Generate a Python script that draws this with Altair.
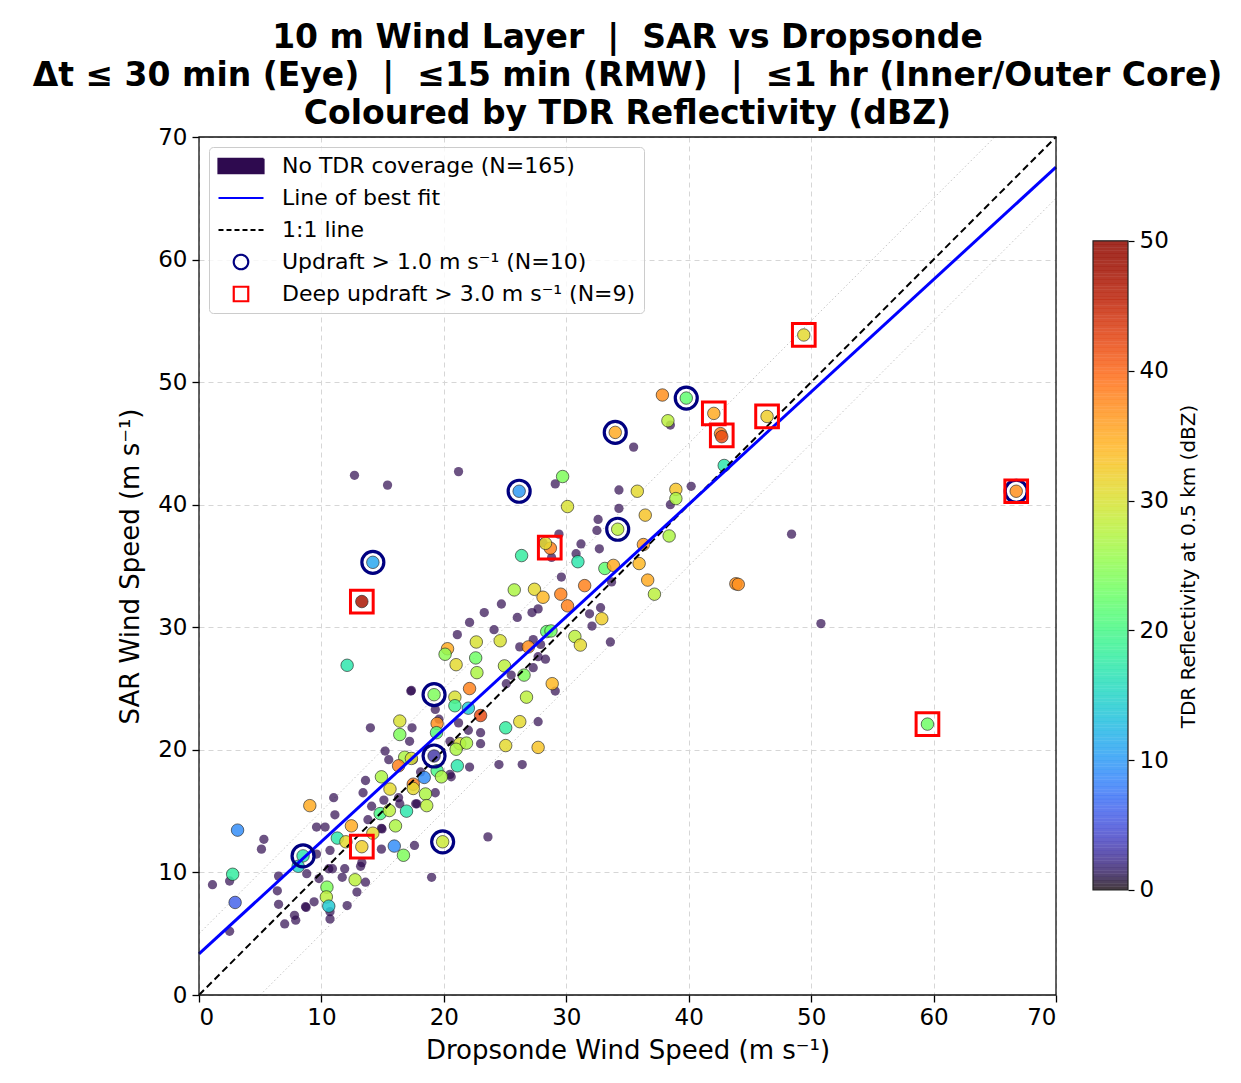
import altair as alt
import pandas as pd
import numpy as np

FONT = "DejaVu Sans"

# ---------------- data ----------------
# points with no TDR coverage (dropsonde speed, SAR speed)
notdr_x = [12.7, 15.4, 21.2, 29.1, 34.3, 35.5, 40.2, 38.5, 48.4, 50.8,
           34.3, 32.6, 32.5, 38.5, 29.4, 28.1, 28.8, 31.2, 30.8, 32.7,
           29.6, 33.7, 24.7, 23.3, 22.1, 21.1, 24.1, 26.0, 27.2, 27.7,
           31.9, 32.8, 32.1, 33.6, 26.2, 27.3, 27.9, 27.7, 28.3, 27.3,
           25.5, 25.1, 29.1, 27.7, 24.5, 26.4, 23.6, 17.3, 17.35, 14.0,
           17.4, 17.2, 15.2, 15.5, 13.6, 13.4, 11.0, 11.1, 14.1, 15.1,
           16.3, 9.6, 10.3, 13.8, 14.9, 14.95, 17.7, 19.3, 20.6, 22.1,
           21.2, 20.5, 23.0, 23.0, 22.0, 17.5, 19.3, 18.1, 20.5, 17.8,
           16.4, 5.3, 5.1, 1.1, 2.5, 2.5, 6.5, 6.4, 6.5, 7.8,
           7.9, 7.0, 8.8, 9.4, 8.7, 8.75, 9.8, 9.6, 10.7, 10.6,
           10.9, 11.9, 11.7, 13.2, 13.3, 12.9, 13.6, 12.1, 10.7, 10.7,
           14.9, 17.6, 19.0, 19.6]
notdr_y = [42.4, 41.6, 42.7, 41.7, 41.2, 44.7, 41.5, 46.5, 37.6, 30.3,
           39.7, 38.8, 37.9, 40.0, 37.6, 36.9, 35.7, 36.8, 36.0, 36.4,
           34.1, 33.7, 31.9, 31.2, 30.4, 29.4, 29.8, 30.8, 31.2, 31.5,
           31.1, 31.6, 30.1, 28.8, 28.4, 29.0, 28.6, 27.6, 27.4, 26.7,
           26.1, 25.4, 24.8, 22.3, 18.8, 18.8, 12.9, 24.8, 24.85, 21.8,
           21.8, 20.7, 19.9, 19.2, 17.5, 16.5, 16.1, 14.7, 15.4, 15.9,
           16.1, 13.7, 13.7, 14.3, 13.6, 13.55, 15.6, 16.5, 17.8, 18.6,
           22.2, 20.7, 21.4, 20.5, 21.6, 19.2, 23.3, 18.2, 18.0, 15.6,
           15.6, 12.7, 11.9, 9.0, 9.3, 5.2, 9.7, 8.5, 7.4, 6.5,
           6.1, 5.8, 9.9, 7.6, 7.2, 7.15, 9.5, 11.5, 11.8, 10.3,
           10.3, 10.3, 9.6, 10.5, 10.8, 8.4, 9.2, 7.3, 6.2, 6.8,
           11.9, 12.2, 9.6, 22.5]

# points with TDR coverage: dropsonde speed, SAR speed, reflectivity (dBZ)
tdr_x = [14.2, 13.3, 12.1, 20.3, 20.1, 22.65, 22.6, 21.0, 22.7, 19.2,
         20.9, 22.1, 20.9, 22.0, 23.0, 16.4, 16.4, 19.45, 19.4, 21.3,
         21.85, 21.0, 19.2, 21.1, 18.4, 19.45, 19.8, 16.8, 17.35, 16.3,
         14.9, 15.6, 17.5, 17.5, 18.5, 18.6, 14.8, 15.55, 16.95, 16.05,
         9.05, 12.45, 11.3, 12.0, 14.2, 13.3, 15.95, 16.7, 8.5, 8.1,
         19.9, 3.15, 2.75, 2.95, 12.75, 10.45, 10.4, 10.6, 34.0, 29.7,
         26.15, 30.1, 35.8, 38.95, 38.95, 34.2, 36.45, 38.4, 28.7, 28.3,
         26.35, 30.95, 33.15, 33.85, 36.3, 35.95, 36.65, 37.2, 25.75, 27.4,
         28.1, 29.55, 30.1, 31.5, 32.9, 30.7, 31.15, 28.4, 28.75, 26.9,
         24.6, 24.95, 26.55, 28.85, 26.75, 26.2, 25.05, 25.05, 27.7, 49.4,
         37.85, 39.8, 42.05, 46.4, 42.6, 42.7, 38.3, 42.9, 43.85, 44.05,
         66.75, 59.5]
tdr_y = [35.3, 32.1, 26.9, 28.25, 27.8, 28.8, 27.5, 26.95, 26.3, 24.5,
         24.3, 25.0, 23.6, 23.4, 22.8, 22.35, 21.25, 22.15, 21.4, 20.5,
         20.55, 20.05, 19.5, 18.7, 17.75, 18.3, 17.8, 19.4, 19.3, 18.7,
         17.8, 16.8, 17.2, 16.85, 16.4, 15.45, 14.8, 15.05, 15.0, 13.8,
         15.45, 13.8, 12.8, 12.5, 13.2, 12.1, 12.15, 11.4, 11.35, 10.5,
         12.5, 13.45, 9.85, 7.55, 9.4, 8.8, 8.0, 7.25, 45.9, 42.3,
         41.1, 39.85, 41.1, 41.25, 40.5, 38.0, 39.15, 37.45, 36.45, 36.85,
         35.85, 35.35, 34.8, 35.05, 36.75, 35.2, 33.85, 32.7, 33.05, 33.1,
         32.45, 32.7, 31.75, 33.4, 30.7, 29.25, 28.55, 29.65, 29.7, 28.4,
         28.9, 26.85, 26.1, 25.4, 24.3, 22.3, 21.8, 20.35, 20.2, 53.85,
         48.95, 48.7, 47.45, 47.2, 45.8, 45.55, 46.85, 43.2, 33.55, 33.5,
         41.1, 22.1]
tdr_dbz = [11, 47, 17, 35, 25, 30, 23, 31, 27, 24,
           30, 38, 19, 14, 42, 30, 24, 37, 21, 30,
           27, 27, 3, 17, 9, 20, 27, 27, 30, 38,
           27, 31, 38, 31, 27, 28, 20, 28, 17, 27,
           35, 35, 17, 31, 31, 32, 9, 24, 17, 15,
           29, 9, 18, 6, 28, 24, 28, 14, 35, 24,
           10, 30, 31, 33, 27, 28, 33, 27, 38, 31,
           18, 17, 22, 35, 36, 34, 35, 28, 27, 31,
           34, 38, 38, 38, 32, 28, 31, 22, 23, 37,
           30, 28, 24, 34, 28, 31, 18, 31, 33, 31,
           37, 22, 35, 32, 38, 42, 28, 17, 37, 37,
           37, 23]

# updraft > 1 m/s (navy rings) and deep updraft > 3 m/s (red squares)
updraft_x = [14.2, 19.2, 19.2, 8.5, 19.9, 34.0, 26.15, 34.2, 39.8, 66.75]
updraft_y = [35.3, 24.5, 19.5, 11.35, 12.5, 45.9, 41.1, 38.0, 48.7, 41.1]
deep_x = [13.3, 13.3, 28.65, 49.4, 42.05, 46.4, 42.7, 66.75, 59.5]
deep_y = [32.1, 12.1, 36.5, 53.85, 47.45, 47.2, 45.65, 41.1, 22.1]

# best fit line and guide offsets
fit_intercept = 3.35
fit_slope = 0.917
guide_offset = 5.0
axis_max = 70

legend_labels = ["No TDR coverage (N=165)", "Line of best fit", "1:1 line",
                 "Updraft > 1.0 m s\u207b\u00b9 (N=10)",
                 "Deep updraft > 3.0 m s\u207b\u00b9 (N=9)"]

title_lines = ["10 m Wind Layer \u00a0|\u00a0 SAR vs Dropsonde",
               "\u0394t \u2264 30 min (Eye) \u00a0|\u00a0 \u226415 min (RMW) \u00a0|\u00a0 \u22641 hr (Inner/Outer Core)",
               "Coloured by TDR Reflectivity (dBZ)"]
x_title = "Dropsonde Wind Speed (m s\u207b\u00b9)"
y_title = "SAR Wind Speed (m s\u207b\u00b9)"
cb_title = "TDR Reflectivity at 0.5 km (dBZ)"
cb_ticks = [0, 10, 20, 30, 40, 50]
ticks = list(range(0, 71, 10))

# ---------------- tables ----------------
df_notdr = pd.DataFrame({"x": notdr_x, "y": notdr_y})
df_tdr = pd.DataFrame({"x": tdr_x, "y": tdr_y, "dbz": tdr_dbz})
df_up = pd.DataFrame({"x": updraft_x, "y": updraft_y})
df_deep = pd.DataFrame({"x": deep_x, "y": deep_y})
df_guides = pd.DataFrame({
    "x": [0, guide_offset], "y": [guide_offset, 0],
    "x2": [axis_max - guide_offset, axis_max], "y2": [axis_max, axis_max - guide_offset]})
df_one = pd.DataFrame({"x": [0], "y": [0], "x2": [axis_max], "y2": [axis_max]})
df_fit = pd.DataFrame({"x": [0], "y": [fit_intercept], "x2": [axis_max],
                       "y2": [fit_intercept + fit_slope * axis_max]})
df_frame = pd.DataFrame({"x": [0], "y": [0], "x2": [axis_max], "y2": [axis_max]})
df_leg = pd.DataFrame({"label": legend_labels, "x": [None] * 5, "y": [None] * 5})

xscale = alt.Scale(domain=[0, 70], nice=False, zero=False)
yscale = alt.Scale(domain=[0, 70], nice=False, zero=False)

axis_common = dict(values=ticks, format="d", labelFontSize=23, titleFontSize=26,
                   labelFont=FONT, titleFont=FONT, labelColor="black", titleColor="black",
                   titleFontWeight="normal", tickSize=7, tickWidth=1.3, tickColor="black",
                   domain=False, grid=True, gridDash=[5, 4], gridColor="#d6d6d6", gridWidth=1)
X = alt.X("x:Q", scale=xscale, axis=alt.Axis(title=x_title, labelPadding=4, titlePadding=8, **axis_common))
Y = alt.Y("y:Q", scale=yscale, axis=alt.Axis(title=y_title, labelPadding=5, titlePadding=14, **axis_common))

guides = alt.Chart(df_guides).mark_rule(color="#bdbdbd", strokeWidth=0.9, strokeDash=[1.5, 2.5]).encode(
    x=X, y=Y, x2="x2:Q", y2="y2:Q")
notdr = alt.Chart(df_notdr).mark_circle(size=86, color="#2e0a4f", opacity=0.7).encode(x=X, y=Y)
tdr = alt.Chart(df_tdr).mark_circle(size=156, opacity=1, fillOpacity=0.85, stroke="#222222",
                                    strokeWidth=0.7, strokeOpacity=0.9).encode(
    x=X, y=Y,
    color=alt.Color("dbz:Q", scale=alt.Scale(scheme="turbo", domain=[0, 50]), legend=None))
one = alt.Chart(df_one).mark_rule(color="black", strokeWidth=2, strokeDash=[7, 4]).encode(
    x=X, y=Y, x2="x2:Q", y2="y2:Q")
fit = alt.Chart(df_fit).mark_rule(color="#0000ff", strokeWidth=3).encode(
    x=X, y=Y, x2="x2:Q", y2="y2:Q")
rings = alt.Chart(df_up).mark_point(shape="circle", filled=False, size=484, color="#000080",
                                    strokeWidth=3.2, opacity=1).encode(x=X, y=Y)
squares = alt.Chart(df_deep).mark_point(shape="square", filled=False, size=515, color="#ff0000",
                                        strokeWidth=3, opacity=1).encode(x=X, y=Y)
frame = alt.Chart(df_frame).mark_rect(fill="transparent", stroke="#111111", strokeWidth=1.3).encode(
    x=X, y=Y, x2="x2:Q", y2="y2:Q")

leg = alt.Legend(title=None, orient="top-left", offset=10, labelFontSize=22, labelFont=FONT,
                 labelColor="black", padding=8, cornerRadius=4, strokeColor="#cccccc",
                 fillColor="rgba(255,255,255,0.8)", symbolStrokeWidth=2.2, labelOffset=17,
                 rowPadding=10, clipHeight=22, symbolOpacity=1, labelLimit=500)
rect_path = "M-1,-0.32L1,-0.32L1,0.32L-1,0.32Z"
dom = legend_labels
legend_layer = alt.Chart(df_leg).mark_point(opacity=1, filled=True).encode(
    x=X, y=Y,
    shape=alt.Shape("label:N", scale=alt.Scale(domain=dom, range=[rect_path, "stroke", "stroke", "circle", "square"]), legend=leg),
    stroke=alt.Stroke("label:N", scale=alt.Scale(domain=dom, range=["#2e0a4f", "#0000ff", "#000000", "#000080", "#ff0000"]), legend=leg),
    fill=alt.Fill("label:N", scale=alt.Scale(domain=dom, range=["#2e0a4f", "transparent", "transparent", "transparent", "transparent"]), legend=leg),
    strokeDash=alt.StrokeDash("label:N", scale=alt.Scale(domain=dom, range=[[1, 0], [1, 0], [5, 3], [1, 0], [1, 0]]), legend=leg),
    size=alt.Size("label:N", scale=alt.Scale(type="ordinal", domain=dom, range=[2025, 2025, 2025, 210, 210]), legend=leg),
)

main = alt.layer(guides, notdr, tdr, one, fit, rings, squares, frame, legend_layer).properties(
    width=857, height=858,
    view=alt.ViewBackground(stroke="transparent"),
    title=alt.TitleParams(text=title_lines, fontSize=33, font=FONT, fontWeight="bold",
                          lineHeight=38, anchor="middle", frame="group", offset=-5, color="black"),
)

# ---------------- colorbar ----------------
cb_lo = np.arange(0, 50, 0.25)
df_cb = pd.DataFrame({"lo": cb_lo, "hi": cb_lo + 0.27, "mid": cb_lo + 0.125})
cb_scale = alt.Scale(domain=[-8.09, 58.01], nice=False, zero=False)
cb_bar = alt.Chart(df_cb).mark_rect(opacity=0.85).encode(
    x=alt.value(0), x2=alt.value(35),
    y=alt.Y("lo:Q", scale=cb_scale,
            axis=alt.Axis(orient="right", values=cb_ticks, format="d", title=cb_title,
                          titleAngle=270, titleBaseline="top", titleFontSize=20,
                          titleFont=FONT, titleFontWeight="normal", titleColor="black",
                          labelFontSize=23, labelFont=FONT, labelColor="black",
                          tickSize=6, tickWidth=1.2, tickColor="black", domain=False,
                          grid=False, labelPadding=5, titlePadding=10)),
    y2="hi:Q",
    color=alt.Color("mid:Q", scale=alt.Scale(scheme="turbo", domain=[0, 50]), legend=None))
cb_frame = alt.Chart(pd.DataFrame({"lo": [0], "hi": [50]})).mark_rect(
    fill="transparent", stroke="#222222", strokeWidth=1.2).encode(
    x=alt.value(0), x2=alt.value(35), y=alt.Y("lo:Q", scale=cb_scale), y2="hi:Q")
colorbar = alt.layer(cb_bar, cb_frame).properties(
    width=35, height=858, view=alt.ViewBackground(stroke="transparent"))

chart = alt.hconcat(main, colorbar, spacing=37, bounds="flush").resolve_scale(
    color="independent").properties(
    padding={"left": 32, "top": 21, "right": 5, "bottom": 5},
    background="white",
).configure(font=FONT)

chart.save("out.html", embed_options={"renderer": "svg", "actions": False})
